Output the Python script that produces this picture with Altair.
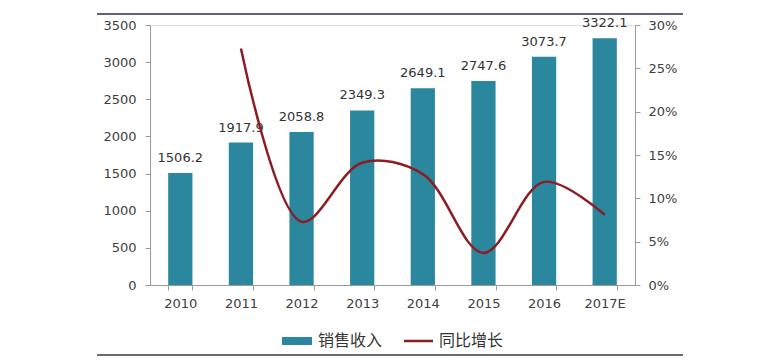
import altair as alt
import pandas as pd

years = ["2010", "2011", "2012", "2013", "2014", "2015", "2016", "2017E"]
revenue = [1506.2, 1917.9, 2058.8, 2349.3, 2649.1, 2747.6, 3073.7, 3322.1]
growth_years = ["2011", "2012", "2013", "2014", "2015", "2016", "2017E"]
growth = [0.273, 0.073, 0.141, 0.128, 0.037, 0.119, 0.081]

legend_labels = ["销售收入", "同比增长"]

BAR = "#2b879e"
LINE = "#8c1d24"
TXT = "#404040"
NUM_FONT = "DejaVu Sans"
CJK_FONT = "Noto Sans CJK SC"

bars_df = pd.DataFrame({"year": years, "revenue": revenue})
line_df = pd.DataFrame({"year": growth_years, "growth": growth})

x_enc = alt.X("year:N", sort=years, title=None,
              scale=alt.Scale(paddingInner=0.6, paddingOuter=0.3),
              axis=alt.Axis(labelAngle=0, labelFont=NUM_FONT, labelFontSize=13,
                            labelColor=TXT, tickBand="extent", tickSize=5,
                            domainColor="#9a9a9a", tickColor="#9a9a9a",
                            labelPadding=7))

y_left = alt.Y("revenue:Q", title=None,
               scale=alt.Scale(domain=[0, 3500]),
               axis=alt.Axis(values=[0, 500, 1000, 1500, 2000, 2500, 3000, 3500],
                             format="d",
                             labelFont=NUM_FONT, labelFontSize=13, labelColor=TXT,
                             tickSize=5, labelPadding=9, grid=False,
                             domainColor="#9a9a9a", tickColor="#9a9a9a"))

bars = alt.Chart(bars_df).mark_bar(color=BAR).encode(x=x_enc, y=y_left)

labels = alt.Chart(bars_df).mark_text(
    font=NUM_FONT, fontSize=13, color="#333333", baseline="alphabetic", dy=-11
).encode(x=x_enc, y=y_left, text=alt.Text("revenue:Q", format=".1f"))

left = alt.layer(bars, labels)

line = alt.Chart(line_df).mark_line(color=LINE, strokeWidth=2.5, interpolate="catmull-rom").encode(
    x=alt.X("year:N", sort=years),
    y=alt.Y("growth:Q", title=None, scale=alt.Scale(domain=[0, 0.3]),
            axis=alt.Axis(orient="right", format=".0%",
                          values=[0, 0.05, 0.1, 0.15, 0.2, 0.25, 0.3],
                          labelFont=NUM_FONT, labelFontSize=13, labelColor=TXT,
                          tickSize=5, labelPadding=8, grid=False,
                          domainColor="#9a9a9a", tickColor="#9a9a9a"))
)

one = pd.DataFrame({"k": [0]})
top_rule = alt.Chart(one).mark_rule(color="#2b2f45", strokeWidth=1.5).encode(
    x=alt.value(-53), x2=alt.value(533), y=alt.value(-11))
bottom_rule = alt.Chart(one).mark_rule(color="#6b6b6b", strokeWidth=2).encode(
    x=alt.value(-53), x2=alt.value(533), y=alt.value(330))

leg_rect = alt.Chart(one).mark_rect(color=BAR).encode(
    x=alt.value(132), x2=alt.value(162), y=alt.value(312), y2=alt.value(320))
leg_line = alt.Chart(one).mark_rule(color=LINE, strokeWidth=2.5).encode(
    x=alt.value(254), x2=alt.value(283), y=alt.value(316))
leg_df = pd.DataFrame({"label": legend_labels, "px": [168, 289]})
leg_text = alt.Chart(leg_df).mark_text(
    font=CJK_FONT, fontSize=16, color="#333333", align="left", baseline="middle"
).encode(x=alt.X("px:Q", scale=None), y=alt.value(316), text="label:N")

chart = alt.layer(left, line, top_rule, bottom_rule, leg_rect, leg_line, leg_text).resolve_scale(
    y="independent"
).properties(
    width=485, height=260,
    autosize=alt.AutoSizeParams(type="none"),
    padding={"left": 142, "top": 17, "right": 115, "bottom": 74},
).configure_view(stroke=None).configure(background="white")

chart.save("out.html", embed_options={"renderer": "svg", "actions": False})
